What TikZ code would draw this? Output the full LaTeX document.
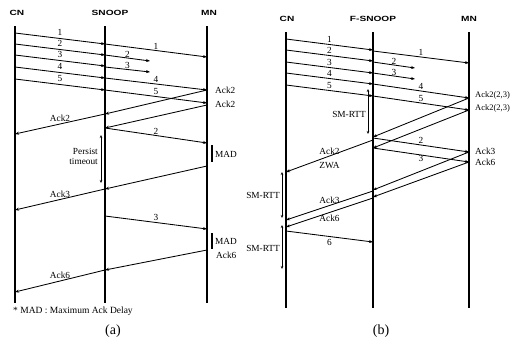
\documentclass[tikz,border=0pt]{standalone}
\usepackage{fontspec}
\setmainfont{Liberation Serif}
\setsansfont{Liberation Sans}
\usetikzlibrary{arrows.meta}
\newcommand{\widehdr}[1]{\scalebox{1.35}[1]{#1}}

\tikzset{
  life/.style={line width=1.1pt},
  msg/.style={-{Stealth[length=4pt,width=3pt]}, line width=0.85pt},
  span/.style={{Stealth[length=3pt,width=2.5pt]}-{Stealth[length=3pt,width=2.5pt]}, line width=0.6pt},
  madbar/.style={line width=1.2pt},
  lbl/.style={font=\fontsize{9.3}{10}\selectfont, inner sep=1pt},
  hdr/.style={font=\sffamily\bfseries\fontsize{7.5}{9}\selectfont, inner sep=0pt},
  subcap/.style={font=\fontsize{14}{16}\selectfont},
}

\begin{document}
\begin{tikzpicture}[x=1pt,y=-1pt]
    \useasboundingbox (0,0) rectangle (511,341);

    % ---------- (a) SNOOP ----------
    \node[hdr] (a-cn) at (17,13) {\widehdr{CN}};
    \node[hdr] (a-sn) at (110,13) {\widehdr{SNOOP}};
    \node[hdr] (a-mn) at (209,13) {\widehdr{MN}};
    \coordinate (a-cn-top) at (15,26);  \coordinate (a-cn-bot) at (15,303);
    \coordinate (a-sn-top) at (105,26); \coordinate (a-sn-bot) at (105,303);
    \coordinate (a-mn-top) at (207,26); \coordinate (a-mn-bot) at (207,303);
    \draw[life] (a-cn-top) -- (a-cn-bot);
    \draw[life] (a-sn-top) -- (a-sn-bot);
    \draw[life] (a-mn-top) -- (a-mn-bot);

    \foreach \i/\y in {1/33,2/44,3/55,4/67,5/79}{
        \coordinate (a-c\i) at (15,\y);
        \coordinate (a-s\i) at (105,{\y+11});
        \draw[msg] (a-c\i) -- node[lbl,above=1.5pt] {\i} (a-s\i);
    }
    \coordinate (a-m1) at (207,57);
    \coordinate (a-lost2) at (150,61);
    \coordinate (a-lost3) at (150,72);
    \coordinate (a-m4) at (207,90);
    \coordinate (a-m5) at (207,103);
    \draw[msg] (a-s1) -- node[lbl,above=0pt] {1} (a-m1);
    \draw[msg] (105,55) coordinate (a-s2b) -- node[lbl,above=-1pt] {2} (a-lost2);
    \draw[msg] (105,67) coordinate (a-s3b) -- node[lbl,above=-1pt] {3} (a-lost3);
    \draw[msg] (a-s4) -- node[lbl,above=0pt] {4} (a-m4);
    \draw[msg] (a-s5) -- node[lbl,above=0pt] {5} (a-m5);

    % dup acks
    \coordinate (a-ka1) at (105,114);
    \coordinate (a-ma2) at (207,105);
    \coordinate (a-ka2) at (105,128);
    \draw[msg] (a-m4) -- (a-ka1);
    \draw[msg] (a-ma2) -- (a-ka2);
    \node[lbl,anchor=west] (a-ack2a) at (214,90) {Ack2};
    \node[lbl,anchor=west] (a-ack2b) at (214,104) {Ack2};
    \coordinate (a-cka1) at (15,134);
    \draw[msg] (a-ka1) -- node[lbl,above=1pt] {Ack2} (a-cka1);

    % retransmission 2
    \coordinate (a-mr2) at (207,143);
    \draw[msg] (a-ka2) -- node[lbl,above=0pt] {2} (a-mr2);
    \coordinate (a-pt-top) at (101,135); \coordinate (a-pt-bot) at (101,183);
    \draw[span] (a-pt-top) -- (a-pt-bot);
    \node[lbl,anchor=east,align=right] (a-persist) at (99,156) {Persist\\timeout};
    \draw[madbar] (212,145) -- (212,162);
    \node[lbl,anchor=west] (a-mad1) at (214,154) {MAD};
    \coordinate (a-ma3) at (207,166); \coordinate (a-ka3) at (105,189);
    \draw[msg] (a-ma3) -- (a-ka3);
    \coordinate (a-cka3) at (15,210);
    \draw[msg] (a-ka3) -- node[lbl,above=0pt] {Ack3} (a-cka3);

    % retransmission 3
    \coordinate (a-sr3) at (105,216); \coordinate (a-mr3) at (207,229);
    \draw[msg] (a-sr3) -- node[lbl,above=0pt] {3} (a-mr3);
    \draw[madbar] (212,233) -- (212,249);
    \node[lbl,anchor=west] (a-mad2) at (214,241) {MAD};
    \node[lbl,anchor=west] (a-ack6) at (215,255) {Ack6};
    \coordinate (a-ma6) at (207,250); \coordinate (a-ka6) at (105,270);
    \draw[msg] (a-ma6) -- (a-ka6);
    \coordinate (a-cka6) at (15,292);
    \draw[msg] (a-ka6) -- node[lbl,above=1pt] {Ack6} (a-cka6);

    \node[lbl,anchor=west,font=\fontsize{9.5}{10}\selectfont] (a-note) at (12,311) {* MAD : Maximum Ack Delay};
    \node[subcap] (a-cap) at (113,331) {(a)};

    % ---------- (b) F-SNOOP ----------
    \node[hdr] (b-cn) at (287,19) {\widehdr{CN}};
    \node[hdr] (b-fs) at (373,19) {\widehdr{F-SNOOP}};
    \node[hdr] (b-mn) at (469,19) {\widehdr{MN}};
    \coordinate (b-cn-top) at (286,32);  \coordinate (b-cn-bot) at (286,308);
    \coordinate (b-fs-top) at (373,32);  \coordinate (b-fs-bot) at (373,308);
    \coordinate (b-mn-top) at (469,32);  \coordinate (b-mn-bot) at (469,308);
    \draw[life] (b-cn-top) -- (b-cn-bot);
    \draw[life] (b-fs-top) -- (b-fs-bot);
    \draw[life] (b-mn-top) -- (b-mn-bot);

    \foreach \i/\y in {1/39,2/50,3/62,4/73,5/85}{
        \coordinate (b-c\i) at (286,\y);
        \coordinate (b-s\i) at (373,{\y+11});
        \draw[msg] (b-c\i) -- node[lbl,above=0.5pt] {\i} (b-s\i);
    }
    \coordinate (b-m1) at (469,63);
    \coordinate (b-lost2) at (415,68);
    \coordinate (b-lost3) at (415,79);
    \coordinate (b-m4) at (469,98);
    \coordinate (b-m5) at (469,110);
    \draw[msg] (373,51) coordinate (b-s1b) -- node[lbl,above=0pt] {1} (b-m1);
    \draw[msg] (373,62) coordinate (b-s2b) -- node[lbl,above=-1pt] {2} (b-lost2);
    \draw[msg] (373,73) coordinate (b-s3b) -- node[lbl,above=-1pt] {3} (b-lost3);
    \draw[msg] (b-s4) -- node[lbl,above=0pt] {4} (b-m4);
    \draw[msg] (b-s5) -- node[lbl,above=0pt] {5} (b-m5);

    % dup acks with SACK info
    \coordinate (b-ka1) at (373,137);
    \coordinate (b-ka2) at (373,148);
    \draw[msg] (b-m4) -- (b-ka1);
    \draw[msg] (b-m5) -- (b-ka2);
    \node[lbl,anchor=west,font=\fontsize{8.5}{10}\selectfont] (b-ack23a) at (474,95) {Ack2(2,3)};
    \node[lbl,anchor=west,font=\fontsize{8.5}{10}\selectfont] (b-ack23b) at (474,108) {Ack2(2,3)};
    \coordinate (b-sm1-top) at (368,89); \coordinate (b-sm1-bot) at (368,134);
    \draw[span] (b-sm1-top) -- (b-sm1-bot);
    \node[lbl,anchor=east] (b-smrtt1) at (367,114) {SM-RTT};

    % fast local retransmissions
    \coordinate (b-mr2) at (469,152); \coordinate (b-mr3) at (469,162);
    \draw[msg] (373,138) coordinate (b-sr2) -- node[lbl,above=0pt] {2} (b-mr2);
    \draw[msg] (373,148) coordinate (b-sr3) -- node[lbl,below=-1pt] {3} (b-mr3);
    \node[lbl,anchor=west] (b-ack3) at (474,151) {Ack3};
    \node[lbl,anchor=west] (b-ack6) at (474,162) {Ack6};
    \coordinate (b-ka3) at (373,190); \coordinate (b-ka6) at (373,197);
    \draw[msg] (b-mr2) -- (b-ka3);
    \draw[msg] (b-mr3) -- (b-ka6);

    % acks towards CN
    \coordinate (b-cka2) at (286,172);
    \draw[msg] (373,140) coordinate (b-za) -- node[lbl,above=0pt] {Ack2} node[lbl,below=5pt] {ZWA} (b-cka2);
    \coordinate (b-cka3) at (286,220); \coordinate (b-cka6) at (286,227);
    \draw[msg] (373,191) coordinate (b-sa3) -- node[lbl,above=0.5pt] {Ack3} (b-cka3);
    \draw[msg] (373,198) coordinate (b-sa6) -- node[lbl,below=1pt] {Ack6} (b-cka6);
    \coordinate (b-c6) at (286,231); \coordinate (b-s6) at (373,242);
    \draw[msg] (b-c6) -- node[lbl,below=1.5pt] {6} (b-s6);

    \coordinate (b-sm2-top) at (282,172); \coordinate (b-sm2-bot) at (282,218);
    \draw[span] (b-sm2-top) -- (b-sm2-bot);
    \node[lbl,anchor=east] (b-smrtt2) at (281,195) {SM-RTT};
    \coordinate (b-sm3-top) at (282,225); \coordinate (b-sm3-bot) at (282,269);
    \draw[span] (b-sm3-top) -- (b-sm3-bot);
    \node[lbl,anchor=east] (b-smrtt3) at (281,248) {SM-RTT};

    \node[subcap] (b-cap) at (381,331) {(b)};
\end{tikzpicture}
\end{document}
